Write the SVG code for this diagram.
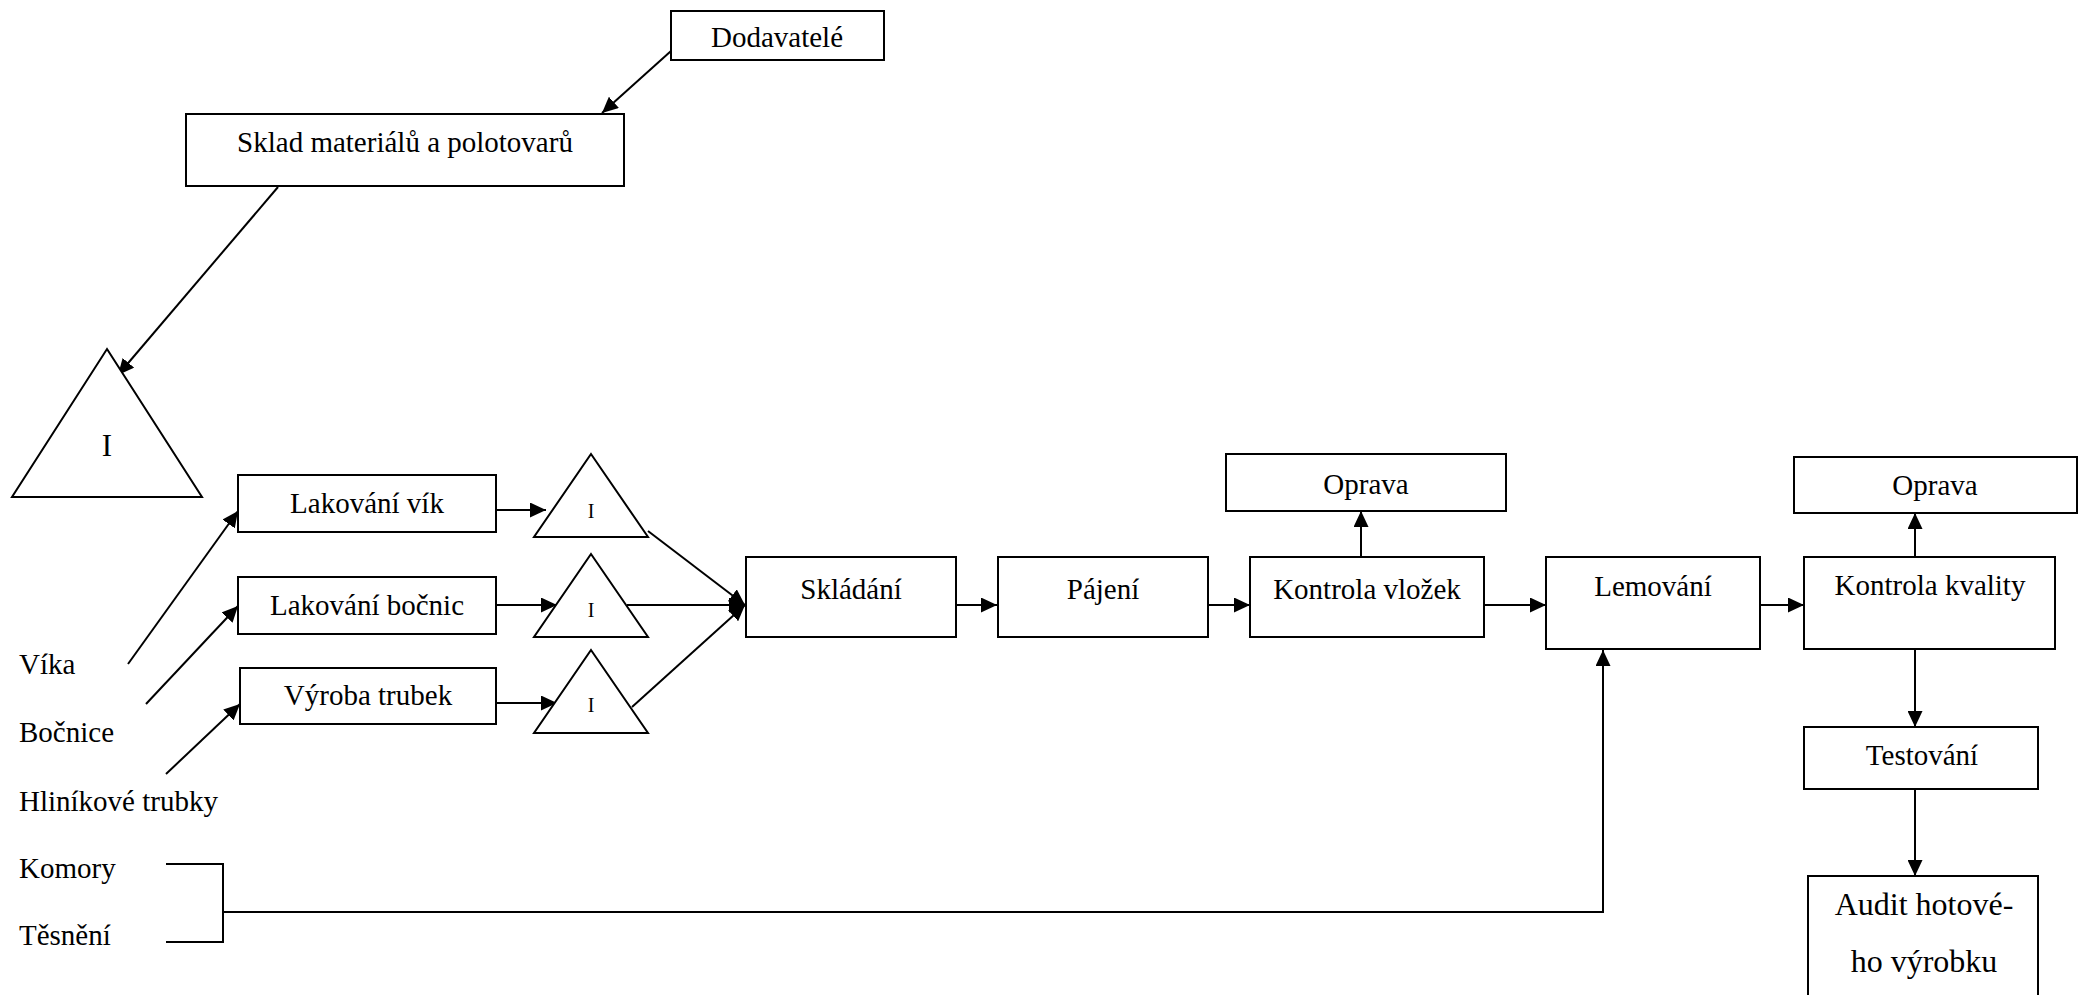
<svg xmlns="http://www.w3.org/2000/svg" width="2085" height="995" viewBox="0 0 2085 995">
<style>
.box{fill:#fff;stroke:#000;stroke-width:2}
.tri{fill:#fff;stroke:#000;stroke-width:2}
.t{font-family:"Liberation Serif","Times New Roman",serif;font-size:29px;fill:#000;text-anchor:middle}
.l{font-family:"Liberation Serif","Times New Roman",serif;font-size:29px;fill:#000}
.ts{font-family:"Liberation Serif","Times New Roman",serif;font-size:20px;fill:#000;text-anchor:middle}
.c{fill:none;stroke:#000;stroke-width:2}
</style>
<defs>
<marker id="ah" markerUnits="userSpaceOnUse" markerWidth="16" markerHeight="15" refX="16" refY="7.5" orient="auto">
<path d="M0,0 L16,7.5 L0,15 Z" fill="#000"/>
</marker>
</defs>
<rect width="2085" height="995" fill="#fff"/>
<g id="connectors">
<line class="c" x1="671" y1="51" x2="602" y2="113" marker-end="url(#ah)"/>
<line class="c" x1="278" y1="187" x2="118" y2="375" marker-end="url(#ah)"/>
<line class="c" x1="128" y1="664" x2="238" y2="511" marker-end="url(#ah)"/>
<line class="c" x1="146" y1="704" x2="238" y2="606" marker-end="url(#ah)"/>
<line class="c" x1="166" y1="774" x2="240" y2="704" marker-end="url(#ah)"/>
<line class="c" x1="496" y1="510" x2="546" y2="510" marker-end="url(#ah)"/>
<line class="c" x1="496" y1="605" x2="557" y2="605" marker-end="url(#ah)"/>
<line class="c" x1="496" y1="703" x2="557" y2="703" marker-end="url(#ah)"/>
<line class="c" x1="648" y1="531" x2="745" y2="605" marker-end="url(#ah)"/>
<line class="c" x1="627" y1="605" x2="745" y2="605" marker-end="url(#ah)"/>
<line class="c" x1="632" y1="707" x2="745" y2="605" marker-end="url(#ah)"/>
<line class="c" x1="956" y1="605" x2="997" y2="605" marker-end="url(#ah)"/>
<line class="c" x1="1208" y1="605" x2="1250" y2="605" marker-end="url(#ah)"/>
<line class="c" x1="1361" y1="558" x2="1361" y2="511" marker-end="url(#ah)"/>
<line class="c" x1="1484" y1="605" x2="1546" y2="605" marker-end="url(#ah)"/>
<line class="c" x1="1760" y1="605" x2="1804" y2="605" marker-end="url(#ah)"/>
<line class="c" x1="1915" y1="557" x2="1915" y2="513" marker-end="url(#ah)"/>
<line class="c" x1="1915" y1="649" x2="1915" y2="727" marker-end="url(#ah)"/>
<line class="c" x1="1915" y1="789" x2="1915" y2="876" marker-end="url(#ah)"/>
<polyline class="c" points="166,864 223,864 223,942 166,942"/>
<polyline class="c" points="223,912 1603,912 1603,650" marker-end="url(#ah)"/>
</g>
<g id="dodavatele"><rect class="box" x="671" y="11" width="213" height="49"/><text class="t" x="777" y="47">Dodavatelé</text></g>
<g id="sklad"><rect class="box" x="186" y="114" width="438" height="72"/><text class="t" x="405" y="152">Sklad materiálů a polotovarů</text></g>
<g id="zasoba-hlavni"><polygon class="tri" points="107,349 202,497 12,497"/><text class="t" x="107" y="456" style="font-size:31px">I</text></g>
<g id="lakovani-vik"><rect class="box" x="238" y="475" width="258" height="57"/><text class="t" x="367" y="513">Lakování vík</text></g>
<g id="lakovani-bocnic"><rect class="box" x="238" y="577" width="258" height="57"/><text class="t" x="367" y="615">Lakování bočnic</text></g>
<g id="vyroba-trubek"><rect class="box" x="240" y="668" width="256" height="56"/><text class="t" x="368" y="705">Výroba trubek</text></g>
<g id="zasoba-1"><polygon class="tri" points="591,454 648,537 534,537"/><text class="ts" x="591" y="518">I</text></g>
<g id="zasoba-2"><polygon class="tri" points="591,554 648,637 534,637"/><text class="ts" x="591" y="617">I</text></g>
<g id="zasoba-3"><polygon class="tri" points="591,650 648,733 534,733"/><text class="ts" x="591" y="712">I</text></g>
<g id="skladani"><rect class="box" x="746" y="557" width="210" height="80"/><text class="t" x="851" y="599">Skládání</text></g>
<g id="pajeni"><rect class="box" x="998" y="557" width="210" height="80"/><text class="t" x="1103" y="599">Pájení</text></g>
<g id="kontrola-vlozek"><rect class="box" x="1250" y="557" width="234" height="80"/><text class="t" x="1367" y="599">Kontrola vložek</text></g>
<g id="oprava-1"><rect class="box" x="1226" y="454" width="280" height="57"/><text class="t" x="1366" y="494">Oprava</text></g>
<g id="lemovani"><rect class="box" x="1546" y="557" width="214" height="92"/><text class="t" x="1653" y="596">Lemování</text></g>
<g id="kontrola-kvality"><rect class="box" x="1804" y="557" width="251" height="92"/><text class="t" x="1930" y="595">Kontrola kvality</text></g>
<g id="oprava-2"><rect class="box" x="1794" y="457" width="283" height="56"/><text class="t" x="1935" y="495">Oprava</text></g>
<g id="testovani"><rect class="box" x="1804" y="727" width="234" height="62"/><text class="t" x="1922" y="765">Testování</text></g>
<g id="audit"><rect class="box" x="1808" y="876" width="230" height="130"/><text class="t" x="1924" y="915" style="font-size:32px">Audit hotové-</text><text class="t" x="1924" y="972" style="font-size:32px">ho výrobku</text></g>
<g id="vstupy">
<text class="l" x="19" y="674">Víka</text>
<text class="l" x="19" y="742">Bočnice</text>
<text class="l" x="19" y="811">Hliníkové trubky</text>
<text class="l" x="19" y="878">Komory</text>
<text class="l" x="19" y="945">Těsnění</text>
</g>
</svg>
